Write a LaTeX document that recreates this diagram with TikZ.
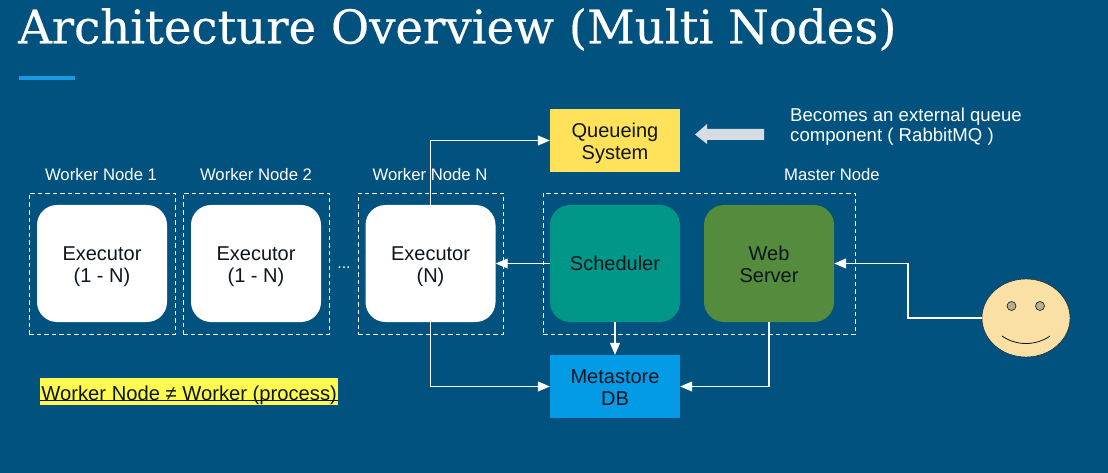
\documentclass[tikz,border=0pt]{standalone}
\usepackage{fontspec}
\setmainfont{Liberation Sans}
\newfontfamily\titlefont[FakeBold=0.4]{DejaVu Serif}
\usetikzlibrary{arrows.meta,shapes.geometric}
\definecolor{bg}{HTML}{01527F}
\definecolor{barblue}{HTML}{1A9AE0}
\definecolor{qyellow}{HTML}{FFE25A}
\definecolor{schedgreen}{HTML}{009688}
\definecolor{webgreen}{HTML}{558B3C}
\definecolor{metablue}{HTML}{039BE5}
\definecolor{face}{HTML}{FBE0A6}
\definecolor{eye}{HTML}{B3AE8C}
\definecolor{hl}{HTML}{FFFA50}
\definecolor{bigarrow}{HTML}{D5DDE3}
\definecolor{ink}{HTML}{0C161C}
\newcommand{\lowa}{\rule{0pt}{21pt}}
\newcommand{\lowb}{\rule{0pt}{16.5pt}}
\tikzset{
  box/.style={inner sep=0pt,align=center,font=\fontsize{20}{22}\selectfont,text=ink,minimum width=130pt},
  proc/.style={box,rounded corners=20pt,minimum height=117pt},
  square/.style={box,minimum height=63pt},
  group/.style={draw=white,dash pattern=on 4.5pt off 3pt,line width=.9pt,inner sep=0pt,minimum height=141pt},
  lbl/.style={text=white,font=\fontsize{16.7}{19}\selectfont,inner sep=0pt},
  link/.style={draw=white,line width=1.1pt},
  arr/.style={link,-{Stealth[length=12pt,width=10pt,inset=0pt]}}
}
\begin{document}
\begin{tikzpicture}[x=1pt,y=-1pt]
\useasboundingbox (0,0) rectangle (1108,473);
\fill[bg] (0,0) rectangle (1108,473);
\node[anchor=base west,inner sep=0pt,text=white,font=\titlefont\fontsize{46.6}{50}\selectfont] (title) at (18,43.5) {Architecture Overview (Multi Nodes)};
\fill[barblue] (19,76) rectangle (75,80.5);

\node[group,minimum width=146pt] (g1) at (102,263.5) {};
\node[group,minimum width=146pt] (g2) at (256,263.5) {};
\node[group,minimum width=145pt] (g3) at (430.5,263.5) {};
\node[group,minimum width=312pt] (g4) at (699,263.5) {};

\node[lbl] (l1) at (101,174.5) {Worker Node 1};
\node[lbl] (l2) at (256,174.5) {Worker Node 2};
\node[lbl] (l3) at (430,174.5) {Worker Node N};
\node[lbl] (l4) at (832,174.5) {Master Node};

\node[proc,fill=white] (e1) at (102,263.5) {\lowa Executor\\(1 - N)};
\node[proc,fill=white] (e2) at (256,263.5) {\lowa Executor\\(1 - N)};
\node[proc,fill=white] (e3) at (430.5,263.5) {\lowa Executor\\(N)};
\node[proc,fill=schedgreen] (sched) at (615,263.5) {Scheduler};
\node[proc,fill=webgreen] (web) at (769,263.5) {\lowb Web\\Server};
\node[square,fill=qyellow] (queue) at (615,140.5) {\lowa Queueing\\System};
\node[square,fill=metablue] (meta) at (615,386.5) {\lowb Metastore\\DB};

\node[text=white,inner sep=0pt,font=\fontsize{16}{18}\selectfont] (dots) at (344,268) {...};

\node[draw=ink,line width=.4pt,fill=face,ellipse,minimum width=88pt,minimum height=78pt,inner sep=0pt] (smiley) at (1026,318) {};
\node[circle,draw=ink,line width=.6pt,fill=eye,minimum size=9pt,inner sep=0pt] (eyeL) at (1011.5,306) {};
\node[circle,draw=ink,line width=.6pt,fill=eye,minimum size=9pt,inner sep=0pt] (eyeR) at (1040,306) {};
\draw[ink,line width=.8pt] (1002,336) .. controls (1016,346) and (1036,346) .. (1050,336);

\coordinate (bend) at (908,318);
\draw[arr] (e3.north) |- (queue.west);
\draw[arr] (sched.west) -- (e3.east);
\draw[arr] (sched.south) -- (meta.north);
\draw[arr] (e3.south) |- (meta.west);
\draw[arr] (web.south) |- (meta.east);
\draw[arr] (smiley.west) -- (bend) |- (web.east);

\fill[bigarrow] (764,129) -- (707,129) -- (707,124) -- (695,134.5) -- (707,144) -- (707,140) -- (764,140) -- cycle;
\node[anchor=base west,text=white,inner sep=0pt,align=left,font=\fontsize{18.6}{20.5}\selectfont] (note) at (790,142) {Becomes an external queue\\component ( RabbitMQ )};

\node[fill=hl,anchor=west,inner sep=0pt,minimum width=298pt,minimum height=23pt,text=ink,font=\fontsize{20.2}{22}\selectfont] (warn) at (40,391.5) {\rule{0pt}{22pt}Worker Node ≠ Worker (process)};
\draw[ink,line width=1pt] ([yshift=-8.5pt]warn.west) -- ([yshift=-8.5pt]warn.east);
\end{tikzpicture}
\end{document}
